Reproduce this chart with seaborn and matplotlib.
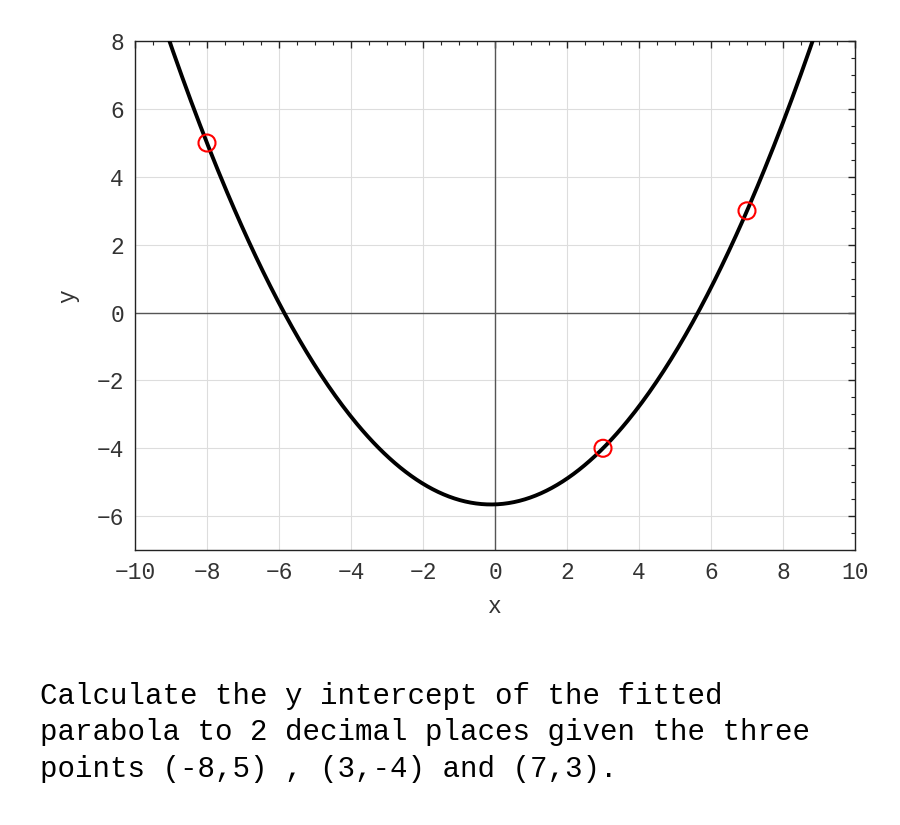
import numpy as np
import pandas as pd
import matplotlib.pyplot as plt
import seaborn as sns
from matplotlib.ticker import MultipleLocator

# the three given points
px = [-8, 3, 7]
py = [5, -4, 3]

x_ticks = [-10, -8, -6, -4, -2, 0, 2, 4, 6, 8, 10]
y_ticks = [-6, -4, -2, 0, 2, 4, 6, 8]

question = ("Calculate the y intercept of the fitted\n"
            "parabola to 2 decimal places given the three\n"
            "points (-8,5) , (3,-4) and (7,3).")

# parabola through the points
coef = np.polyfit(px, py, 2)
xs = np.linspace(-10, 10, 400)
curve = pd.DataFrame({"x": xs, "y": np.polyval(coef, xs)})
pts = pd.DataFrame({"x": px, "y": py})

sns.set_style("white")
plt.rcParams['font.family'] = ['Liberation Mono', 'DejaVu Sans']

fig = plt.figure(figsize=(9, 8.25), dpi=100)
ax = fig.add_axes([0.15, 0.3333, 0.80, 0.6167])

ax.axhline(0, color="#555555", lw=1, zorder=1)
ax.axvline(0, color="#555555", lw=1, zorder=1)

sns.lineplot(data=curve, x="x", y="y", color="black", lw=2.8, ax=ax, zorder=3)
sns.scatterplot(data=pts, x="x", y="y", marker="o", s=150, facecolor="none",
                edgecolor="red", linewidth=1.5, ax=ax, zorder=4)

ax.set_xlim(-10, 10)
ax.set_ylim(-7, 8)
ax.set_xticks(x_ticks)
ax.set_yticks(y_ticks)
ax.xaxis.set_minor_locator(MultipleLocator(0.5))
ax.yaxis.set_minor_locator(MultipleLocator(0.5))
ax.grid(True, which="major", color="#dddddd", lw=0.8, zorder=0)
ax.tick_params(which="both", direction="in", top=True, right=True, colors="#222222",
               labelcolor="#333333", labelsize=16.5)
ax.tick_params(which="major", length=5, width=1, pad=8)
ax.tick_params(which="minor", length=3, width=0.8)
for s in ax.spines.values():
    s.set_color("#222222")
    s.set_linewidth(1)

ax.set_xlabel("x", fontsize=16.5, color="#333333", labelpad=8)
ax.set_ylabel("y", fontsize=16.5, color="#333333", labelpad=12)

fig.text(40 / 900, 1 - 682 / 825, question, fontsize=21, va="top", ha="left",
         linespacing=1.38, color="black")

plt.savefig("out.png", dpi=100)
